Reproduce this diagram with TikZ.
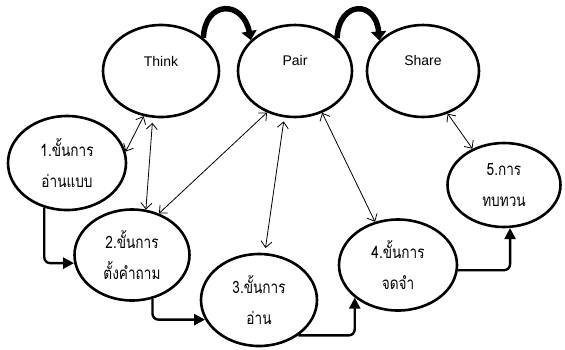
\documentclass[tikz,border=0pt]{standalone}
\usepackage{fontspec}
\setmainfont{Liberation Sans}
\newfontfamily\thaifont[Script=Thai,FakeStretch=0.8]{Loma}
\usetikzlibrary{shapes.geometric,arrows.meta}
\begin{document}
\begin{tikzpicture}[x=1pt,y=-1pt,
  ell/.style={ellipse,draw,line width=2.6pt,inner sep=0pt},
  thai/.style={align=center,font=\thaifont\fontsize{17}{31}\selectfont},
  eng/.style={font=\fontsize{14}{16}\selectfont,inner sep=0pt},
  tarr/.style={line width=0.8pt,>={Straight Barb[length=6pt,width=11pt]},<->},
  karr/.style={line width=2.4pt,rounded corners=6pt,>={Triangle[length=11pt,width=11pt]},->},
  carr/.style={line width=5.5pt,>={Triangle[length=9pt,width=15pt]},->}]
\useasboundingbox (0,0) rectangle (565,349);
% top row
\node[ell,minimum width=116pt,minimum height=92pt] (think) at (161,71) {};
\node[ell,minimum width=114pt,minimum height=92pt] (pair) at (295,71) {};
\node[ell,minimum width=112pt,minimum height=92pt] (share) at (423,71) {};
\node[eng] (thinkT) at (161,61) {Think};
\node[eng] (pairT) at (295,60) {Pair};
\node[eng] (shareT) at (423,60) {Share};
% steps
\node[ell,thai,minimum width=118pt,minimum height=94pt] (e1) at (67,163) {1.ขั้นการ\\อ่านแบบ};
\node[ell,thai,minimum width=115pt,minimum height=91pt] (e2) at (132,255) {2.ขั้นการ\\ตั้งคำถาม};
\node[ell,thai,minimum width=116pt,minimum height=92pt] (e3) at (259,300) {3.ขั้นการ\\อ่าน};
\node[ell,thai,minimum width=118pt,minimum height=91pt] (e4) at (398,265) {4.ขั้นการ\\จดจำ};
\node[ell,thai,minimum width=113pt,minimum height=84pt] (e5) at (504,185) {5.การ\\ทบทวน};
% curved arrows
\draw[carr] (think.38) .. controls (205,0) and (243,0) .. (pair.145);
\draw[carr] (pair.38) .. controls (339,0) and (376,0) .. (share.145);
% thin double arrows
\draw[tarr] (think.249) -- (e1.11);
\draw[tarr,shorten <=5pt] (think.260) -- (e2.73);
\draw[tarr] (pair.236) -- (e2.57);
\draw[tarr,shorten <=4pt,shorten >=5pt] (pair.257) -- (e3.83);
\draw[tarr] (pair.303) -- (e4.118);
\draw[tarr] (share.300) -- (e5.131);
% thick elbow arrows
\draw[karr] (e1.243) |- (e2.188);
\draw[karr] (e2.295) |- (e3.200);
\draw[karr] (e3.318) -| (e4.217);
\draw[karr] (e4.355) -| (e5.278);
\end{tikzpicture}
\end{document}
